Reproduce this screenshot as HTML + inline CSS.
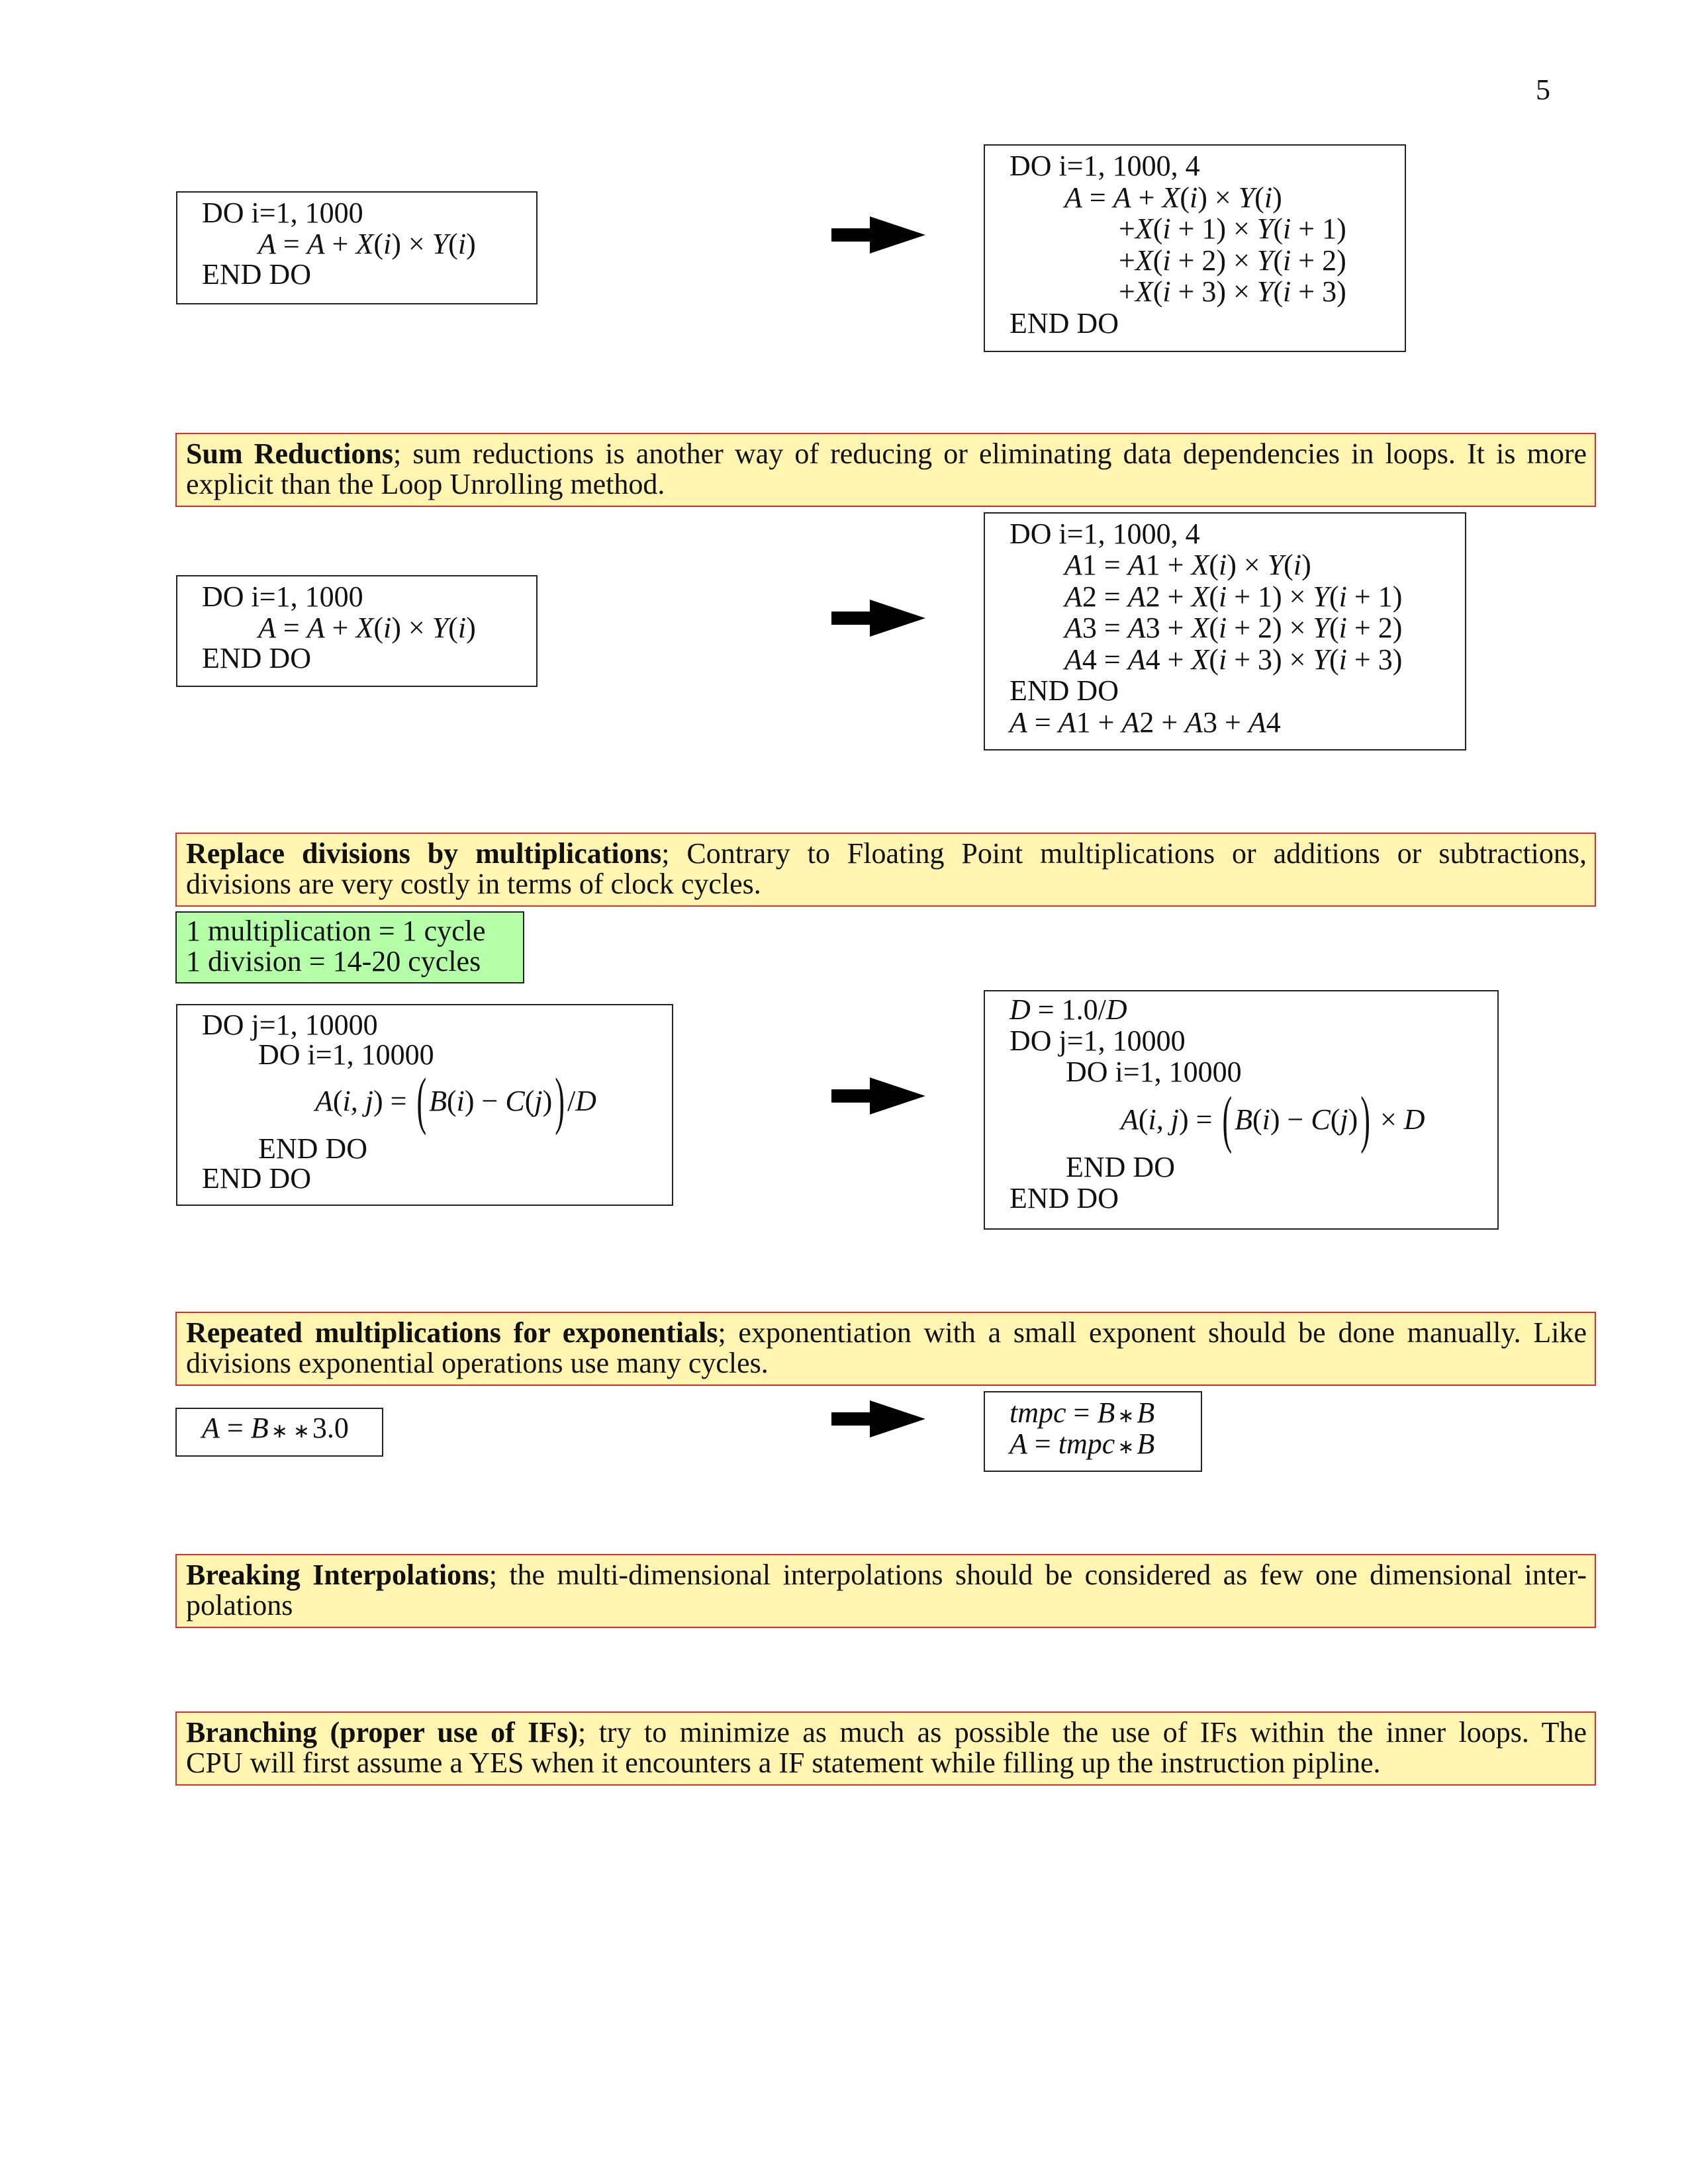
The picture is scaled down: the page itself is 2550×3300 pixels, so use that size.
<!DOCTYPE html>
<html><head><meta charset="utf-8"><style>
body{margin:0;background:#fff}
#page{position:relative;width:2550px;height:3300px;background:#fff;font-family:"Liberation Serif",serif;font-size:44px;color:#111}
.box{position:absolute;border:2px solid #222;background:#fff;box-sizing:border-box}
.y{position:absolute;background:#fff5b0;border:2px solid #d83030;box-sizing:border-box}
.g{position:absolute;background:#b5ffa8;border:2px solid #222;box-sizing:border-box}
.l{position:absolute;white-space:nowrap;line-height:48px;height:48px}
.j{position:absolute;left:14px;right:12px;line-height:48px;height:48px;text-align:justify;text-align-last:justify;white-space:nowrap}
.j2{position:absolute;left:14px;line-height:48px;height:48px;white-space:nowrap}
i{font-style:italic}
.bp{display:inline-block;transform:scaleY(2.2);font-weight:100;margin:0 4px}
.ast{font-family:"DejaVu Sans",sans-serif;font-size:30px;margin:0 4px}
svg{position:absolute}
</style></head><body>
<div id="page">
<div class="l" style="left:2320px;top:112px">5</div>

<!-- section 1 -->
<div class="box" style="left:266px;top:289px;width:546px;height:171px"></div>
<div class="l" style="left:305px;top:298px">DO i=1, 1000</div>
<div class="l" style="left:390px;top:345px"><i>A</i> = <i>A</i> + <i>X</i>(<i>i</i>) × <i>Y</i>(<i>i</i>)</div>
<div class="l" style="left:305px;top:391px">END DO</div>
<svg style="left:1250px;top:322px" width="160" height="66"><polygon points="6,23 64,23 64,5 148,33 64,61 64,43 6,43" fill="#000"/></svg>
<div class="box" style="left:1486px;top:218px;width:638px;height:314px"></div>
<div class="l" style="left:1525px;top:227px">DO i=1, 1000, 4</div>
<div class="l" style="left:1608px;top:275px"><i>A</i> = <i>A</i> + <i>X</i>(<i>i</i>) × <i>Y</i>(<i>i</i>)</div>
<div class="l" style="left:1690px;top:322px">+<i>X</i>(<i>i</i> + 1) × <i>Y</i>(<i>i</i> + 1)</div>
<div class="l" style="left:1690px;top:370px">+<i>X</i>(<i>i</i> + 2) × <i>Y</i>(<i>i</i> + 2)</div>
<div class="l" style="left:1690px;top:417px">+<i>X</i>(<i>i</i> + 3) × <i>Y</i>(<i>i</i> + 3)</div>
<div class="l" style="left:1525px;top:465px">END DO</div>

<!-- sum reductions -->
<div class="y" style="left:265px;top:654px;width:2146px;height:112px">
<div class="j" style="top:6px"><b>Sum Reductions</b>; sum reductions is another way of reducing or eliminating data dependencies in loops. It is more</div>
<div class="j2" style="top:52px">explicit than the Loop Unrolling method.</div>
</div>
<div class="box" style="left:266px;top:869px;width:546px;height:169px"></div>
<div class="l" style="left:305px;top:878px">DO i=1, 1000</div>
<div class="l" style="left:390px;top:925px"><i>A</i> = <i>A</i> + <i>X</i>(<i>i</i>) × <i>Y</i>(<i>i</i>)</div>
<div class="l" style="left:305px;top:971px">END DO</div>
<svg style="left:1250px;top:901px" width="160" height="66"><polygon points="6,23 64,23 64,5 148,33 64,61 64,43 6,43" fill="#000"/></svg>
<div class="box" style="left:1486px;top:774px;width:729px;height:360px"></div>
<div class="l" style="left:1525px;top:783px">DO i=1, 1000, 4</div>
<div class="l" style="left:1608px;top:830px"><i>A</i>1 = <i>A</i>1 + <i>X</i>(<i>i</i>) × <i>Y</i>(<i>i</i>)</div>
<div class="l" style="left:1608px;top:878px"><i>A</i>2 = <i>A</i>2 + <i>X</i>(<i>i</i> + 1) × <i>Y</i>(<i>i</i> + 1)</div>
<div class="l" style="left:1608px;top:925px"><i>A</i>3 = <i>A</i>3 + <i>X</i>(<i>i</i> + 2) × <i>Y</i>(<i>i</i> + 2)</div>
<div class="l" style="left:1608px;top:973px"><i>A</i>4 = <i>A</i>4 + <i>X</i>(<i>i</i> + 3) × <i>Y</i>(<i>i</i> + 3)</div>
<div class="l" style="left:1525px;top:1020px">END DO</div>
<div class="l" style="left:1525px;top:1068px"><i>A</i> = <i>A</i>1 + <i>A</i>2 + <i>A</i>3 + <i>A</i>4</div>

<!-- divisions -->
<div class="y" style="left:265px;top:1258px;width:2146px;height:112px">
<div class="j" style="top:6px"><b>Replace divisions by multiplications</b>; Contrary to Floating Point multiplications or additions or subtractions,</div>
<div class="j2" style="top:52px">divisions are very costly in terms of clock cycles.</div>
</div>
<div class="g" style="left:265px;top:1377px;width:527px;height:109px">
<div class="j2" style="top:4px;left:14px">1 multiplication = 1 cycle</div>
<div class="j2" style="top:50px;left:14px">1 division = 14-20 cycles</div>
</div>
<div class="box" style="left:266px;top:1517px;width:751px;height:305px"></div>
<div class="l" style="left:305px;top:1525px">DO j=1, 10000</div>
<div class="l" style="left:390px;top:1570px">DO i=1, 10000</div>
<div class="l" style="left:476px;top:1640px"><i>A</i>(<i>i, j</i>) = <span class="bp">(</span><i>B</i>(<i>i</i>) − <i>C</i>(<i>j</i>)<span class="bp">)</span>/<i>D</i></div>
<div class="l" style="left:390px;top:1712px">END DO</div>
<div class="l" style="left:305px;top:1757px">END DO</div>
<svg style="left:1250px;top:1623px" width="160" height="66"><polygon points="6,23 64,23 64,5 148,33 64,61 64,43 6,43" fill="#000"/></svg>
<div class="box" style="left:1486px;top:1496px;width:778px;height:362px"></div>
<div class="l" style="left:1525px;top:1502px"><i>D</i> = 1.0/<i>D</i></div>
<div class="l" style="left:1525px;top:1549px">DO j=1, 10000</div>
<div class="l" style="left:1610px;top:1596px">DO i=1, 10000</div>
<div class="l" style="left:1693px;top:1668px"><i>A</i>(<i>i, j</i>) = <span class="bp">(</span><i>B</i>(<i>i</i>) − <i>C</i>(<i>j</i>)<span class="bp">)</span> × <i>D</i></div>
<div class="l" style="left:1610px;top:1740px">END DO</div>
<div class="l" style="left:1525px;top:1787px">END DO</div>

<!-- exponentials -->
<div class="y" style="left:265px;top:1982px;width:2146px;height:112px">
<div class="j" style="top:6px"><b>Repeated multiplications for exponentials</b>; exponentiation with a small exponent should be done manually. Like</div>
<div class="j2" style="top:52px">divisions exponential operations use many cycles.</div>
</div>
<div class="box" style="left:265px;top:2127px;width:314px;height:74px"></div>
<div class="l" style="left:305px;top:2134px"><i>A</i> = <i>B</i><span class="ast">∗</span><span class="ast">∗</span>3.0</div>
<svg style="left:1250px;top:2111px" width="160" height="66"><polygon points="6,23 64,23 64,5 148,33 64,61 64,43 6,43" fill="#000"/></svg>
<div class="box" style="left:1486px;top:2102px;width:330px;height:122px"></div>
<div class="l" style="left:1525px;top:2111px"><i>tmpc</i> = <i>B</i><span class="ast">∗</span><i>B</i></div>
<div class="l" style="left:1525px;top:2158px"><i>A</i> = <i>tmpc</i><span class="ast">∗</span><i>B</i></div>

<!-- interpolations -->
<div class="y" style="left:265px;top:2348px;width:2146px;height:112px">
<div class="j" style="top:6px"><b>Breaking Interpolations</b>; the multi-dimensional interpolations should be considered as few one dimensional inter-</div>
<div class="j2" style="top:52px">polations</div>
</div>

<!-- branching -->
<div class="y" style="left:265px;top:2586px;width:2146px;height:112px">
<div class="j" style="top:6px"><b>Branching (proper use of IFs)</b>; try to minimize as much as possible the use of IFs within the inner loops. The</div>
<div class="j2" style="top:52px">CPU will first assume a YES when it encounters a IF statement while filling up the instruction pipline.</div>
</div>
</div>
</body></html>
